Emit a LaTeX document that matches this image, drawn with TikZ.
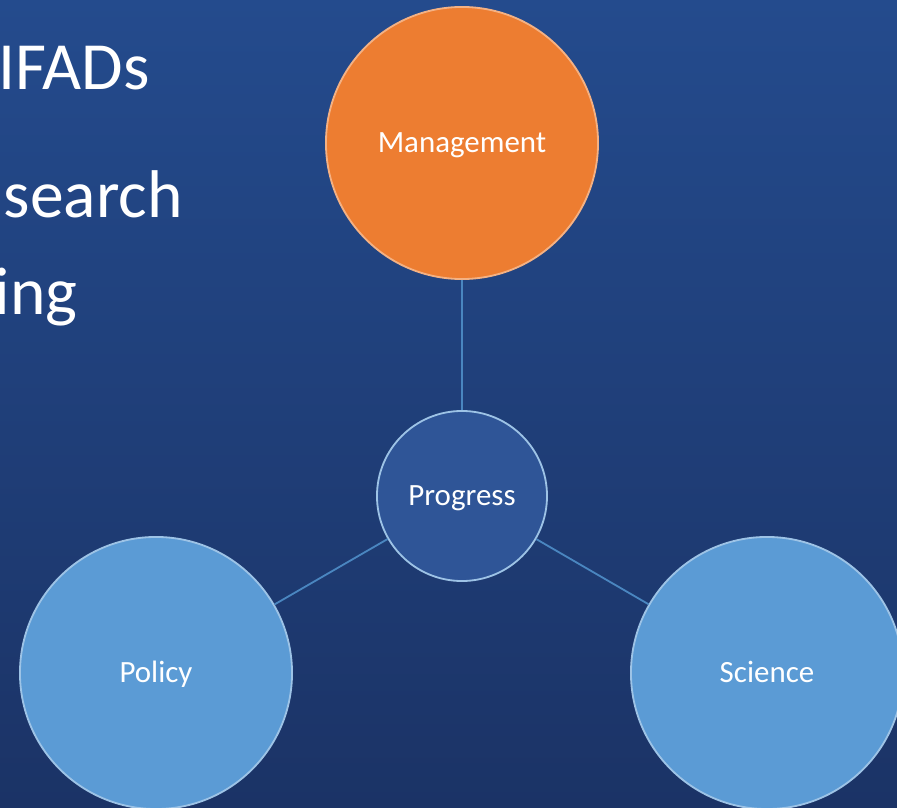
\documentclass[tikz,border=0pt]{standalone}
\usepackage{fontspec}
\setmainfont{Carlito}
\usepackage{xcolor}
\usepackage{tikz}
\usetikzlibrary{calc}

\definecolor{SlideTop}{HTML}{244B8D}
\definecolor{SlideBottom}{HTML}{1B3366}
\definecolor{MgmtFill}{HTML}{ED7D31}
\definecolor{MgmtEdge}{HTML}{F4B183}
\definecolor{ProgFill}{HTML}{2F5597}
\definecolor{BlueFill}{HTML}{5B9BD5}
\definecolor{BlueEdge}{HTML}{9DC3E6}
\definecolor{LinkLine}{HTML}{4A86C0}

\begin{document}
\begin{tikzpicture}[x=0.025cm, y=-0.025cm,
	bubble/.style={circle, draw=BlueEdge, fill=BlueFill, line width=1.3pt, text=white,
		minimum size=6.8cm, inner sep=0pt, text height=14.2pt, text depth=0pt,
		font=\fontsize{22}{26}\selectfont},
	hub/.style={bubble, fill=ProgFill, minimum size=4.25cm},
	link/.style={draw=LinkLine, line width=1.3pt},
	bullet/.style={anchor=base east, text=white, inner sep=0pt, font=\fontsize{48}{58}\selectfont}]

	\useasboundingbox (0,0) rectangle (897,808);
	\clip (0,0) rectangle (897,808);
	\shade[top color=SlideTop, bottom color=SlideBottom] (0,0) rectangle (897,808);

	\coordinate (M) at (462,143);
	\coordinate (C) at (462,496);
	\coordinate (P) at (156,673);
	\coordinate (S) at (767,673);

	% bullet text, cut at the left edge
	\node[bullet] (ifads) at (150,90) {IFADs};
	\node[bullet] (research) at (183,217) {search};
	\node[bullet] (ing) at (78,314) {ing};

	\node[bubble, fill=MgmtFill, draw=MgmtEdge] (mgmt) at (M) {Management};
	\node[hub] (prog) at (C) {Progress};
	\node[bubble] (policy) at (P) {Policy};
	\node[bubble] (science) at (S) {Science};

	\draw[link] (mgmt) -- (prog);
	\draw[link] (prog) -- (policy);
	\draw[link] (prog) -- (science);

\end{tikzpicture}
\end{document}
